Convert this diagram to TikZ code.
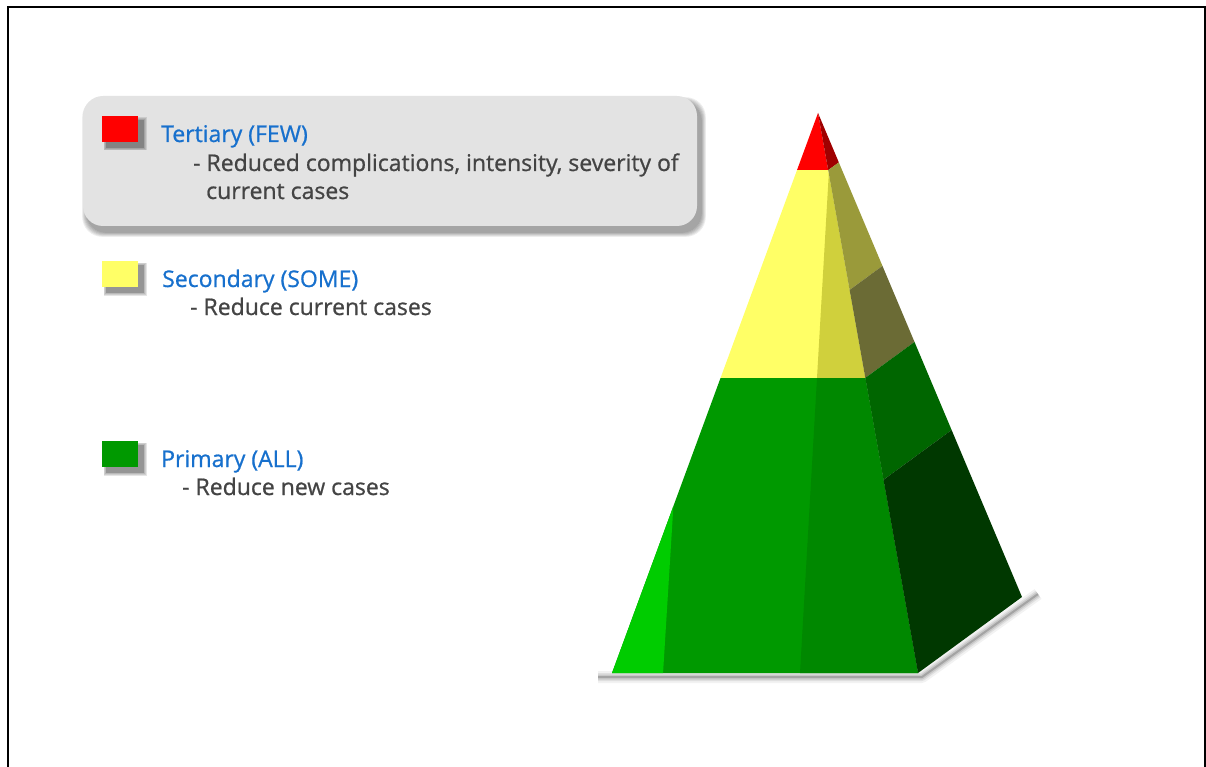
\documentclass[tikz,border=0pt]{standalone}
\usepackage{fontspec}
\setmainfont{Open Sans}
\newfontfamily\keyfont{Open Sans}[FakeBold=0.8]
\usetikzlibrary{positioning,calc}

\definecolor{tiblue}{RGB}{23,112,205}
\definecolor{txgray}{RGB}{68,68,68}
\definecolor{panelgray}{RGB}{227,227,227}
\definecolor{tred}{RGB}{255,0,0}
\definecolor{tredmid}{RGB}{212,0,0}
\definecolor{tredside}{RGB}{160,0,0}
\definecolor{syellow}{RGB}{255,255,102}
\definecolor{syellowmid}{RGB}{208,208,60}
\definecolor{solive}{RGB}{154,154,58}
\definecolor{solivedark}{RGB}{107,107,53}
\definecolor{pgreen}{RGB}{0,153,0}
\definecolor{pgreenlight}{RGB}{0,204,0}
\definecolor{pgreenmid}{RGB}{0,136,0}
\definecolor{pgreenside}{RGB}{0,102,0}
\definecolor{pgreendark}{RGB}{0,56,0}

\tikzset{keybox/.style={minimum width=36pt, minimum height=26pt, inner sep=0pt, outer sep=0pt}}
\tikzset{ktitle/.style={font=\keyfont\fontsize{23}{29}\selectfont, text=tiblue, inner sep=0pt, anchor=base west}}
\tikzset{kdesc/.style={font=\keyfont\fontsize{23}{29}\selectfont, text=txgray, inner sep=0pt, anchor=base west}}

% soft shadow behind a key square, centre given
\newcommand{\keyshadow}[2]{%
  \foreach \k in {1,...,5}
    \fill[black, opacity=0.1] ($(#1,#2)+(-18+5-\k*0.7,13+5+\k*0.7)$) rectangle ($(#1,#2)+(18+5+\k*0.7,-13+5-\k*0.7)$);}

\begin{document}
\begin{tikzpicture}[x=1pt,y=-1pt]
\useasboundingbox (0,0) rectangle (1206,767);

% frame
\draw[line width=2.5pt] (8,767) -- (8,7) -- (1206,7);
\draw[line width=2pt] (1204.5,7) -- (1204.5,767);

% grey panel behind the tertiary item
\foreach \k in {1,...,6}
  \fill[black, opacity=0.07, rounded corners=20pt] (83+4-\k*0.8,96+6-\k*0.8) rectangle (697+4+\k*0.8,226+6+\k*0.8);
\fill[panelgray, rounded corners=20pt] (83,96) rectangle (697,226);

% legend
\keyshadow{120}{129}
\node[keybox, fill=tred] (tkey) at (120,129) {};
\node[ktitle] (ttitle) at ($(tkey.east)+(23,13)$) {Tertiary (FEW)};
\node[kdesc] (tdesc) at ($(ttitle.base west)+(32,29)$) {- Reduced complications, intensity, severity of};
\node[kdesc] (tdesc2) at ($(tdesc.base west)+(13,28)$) {current cases};

\keyshadow{120}{274}
\node[keybox, fill=syellow] (skey) at (120,274) {};
\node[ktitle] (stitle) at ($(skey.east)+(24,13)$) {Secondary (SOME)};
\node[kdesc] (sdesc) at ($(stitle.base west)+(28,28)$) {- Reduce current cases};

\keyshadow{120}{454}
\node[keybox, fill=pgreen] (pkey) at (120,454) {};
\node[ktitle] (ptitle) at ($(pkey.east)+(23,13)$) {Primary (ALL)};
\node[kdesc] (pdesc) at ($(ptitle.base west)+(21,28)$) {- Reduce new cases};

% pyramid
\coordinate (apex) at (818,113);
\coordinate (fl) at (612,673);
\coordinate (fr) at (918,673);
\coordinate (br) at (1022,597);

\foreach \w/\o in {12/0.05, 8/0.08, 5/0.1, 2/0.18}
  \draw[line width=\w pt, black, opacity=\o, line join=round] (598,677) -- (922,677) -- (1038,594);

\begin{scope}
  \clip (apex) -- (fl) -- (fr) -- cycle;
  \fill[tred] (590,100) rectangle (930,170);
  \fill[syellow] (590,170) rectangle (930,378);
  \fill[pgreen] (590,378) rectangle (930,680);
  \fill[tredmid] (833,100) -- (829,170) -- (930,170) -- (930,100) -- cycle;
  \fill[syellowmid] (829,170) -- (817,378) -- (930,378) -- (930,170) -- cycle;
  \fill[pgreenmid] (817,378) -- (799.6,680) -- (930,680) -- (930,378) -- cycle;
  \fill[pgreenlight] (590,680) -- (662.6,680) -- (675,480) -- (590,480) -- cycle;
\end{scope}

\fill[tredside] (apex) -- ($(apex)!0.102!(fr)$) -- ($(apex)!0.102!(br)$) -- cycle;
\fill[solive] ($(apex)!0.102!(fr)$) -- ($(apex)!0.316!(fr)$) -- ($(apex)!0.316!(br)$) -- ($(apex)!0.102!(br)$) -- cycle;
\fill[solivedark] ($(apex)!0.316!(fr)$) -- ($(apex)!0.473!(fr)$) -- ($(apex)!0.473!(br)$) -- ($(apex)!0.316!(br)$) -- cycle;
\fill[pgreenside] ($(apex)!0.473!(fr)$) -- ($(apex)!0.655!(fr)$) -- ($(apex)!0.655!(br)$) -- ($(apex)!0.473!(br)$) -- cycle;
\fill[pgreendark] ($(apex)!0.655!(fr)$) -- (fr) -- (br) -- ($(apex)!0.655!(br)$) -- cycle;

\end{tikzpicture}
\end{document}
